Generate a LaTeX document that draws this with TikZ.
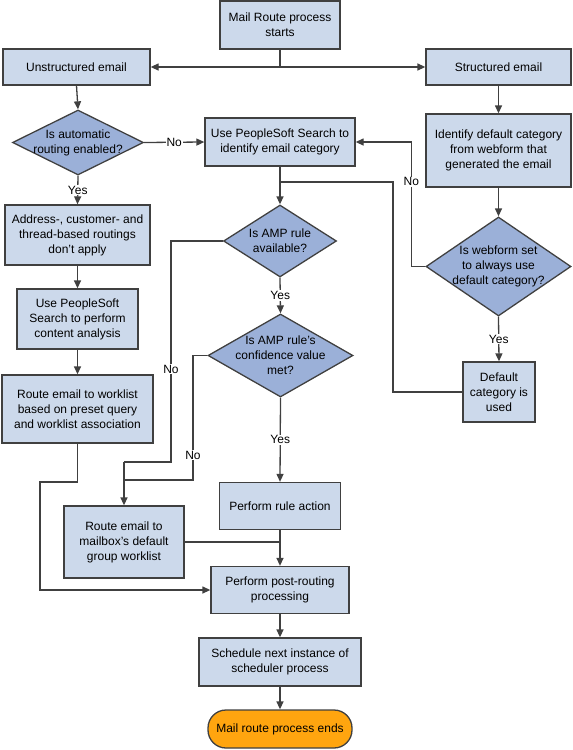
\documentclass[tikz,border=0pt]{standalone}
\usepackage{fontspec}
\setmainfont{Liberation Sans}
\usetikzlibrary{shapes.geometric,arrows.meta,positioning,calc}

\definecolor{boxfill}{RGB}{204,217,235}
\definecolor{decfill}{RGB}{155,176,216}
\definecolor{edge}{RGB}{64,64,64}
\definecolor{endfill}{RGB}{255,165,15}

\begin{document}
\begin{tikzpicture}[x=1pt, y=-1pt,
    font=\fontsize{12}{15}\selectfont,
    box/.style={draw=edge, line width=1.3pt, fill=boxfill, align=center, inner sep=0pt},
    decision/.style={diamond, draw=edge, line width=1.3pt, fill=decfill, inner sep=0pt},
    dtext/.style={align=center, inner sep=0pt},
    line/.style={draw=edge, line width=1.3pt},
    arr/.style={line, -{Triangle[length=8pt,width=7pt]}},
    lbl/.style={fill=white, inner sep=1pt}]
    \useasboundingbox (0,0) rectangle (573,750);

    % Start and the two email kinds
    \node[box, minimum width=120, minimum height=48] (start) at (280,25) {Mail Route process\\starts};
    \node[box, minimum width=147, minimum height=36] (unstr) at (76.5,67) {Unstructured email};
    \node[box, minimum width=145, minimum height=36] (str) at (498.5,67) {Structured email};
    \coordinate (split) at (280,67);

    % Left column
    \node[decision, minimum width=131, minimum height=65] (auto) at (78,142.5) {};
    \node[dtext] (auto-t) at (auto) {Is automatic\\routing enabled?};
    \node[box, minimum width=145, minimum height=60] (addr) at (77.5,235) {Address-, customer- and\\thread-based routings\\don't apply};
    \node[box, minimum width=121, minimum height=60] (content) at (77.5,319) {Use PeopleSoft\\Search to perform\\content analysis};
    \node[box, minimum width=151, minimum height=68] (rtwl) at (77.5,409) {Route email to worklist\\based on preset query\\and worklist association};

    % Middle column
    \node[box, minimum width=150, minimum height=48] (idcat) at (280,142) {Use PeopleSoft Search to\\identify email category};
    \node[decision, minimum width=113, minimum height=72] (amp) at (280,241) {};
    \node[dtext] (amp-t) at (amp) {Is AMP rule\\available?};
    \node[decision, minimum width=145, minimum height=83] (conf) at (280.5,355.5) {};
    \node[dtext] (conf-t) at (conf) {Is AMP rule's\\confidence value\\met?};
    \node[box, minimum width=121, minimum height=47] (rule) at (280,506) {Perform rule action};
    \node[box, minimum width=120, minimum height=72] (mbox) at (124,542) {Route email to\\mailbox's default\\group worklist};
    \node[box, minimum width=138, minimum height=47] (post) at (280,590) {Perform post-routing\\processing};
    \node[box, minimum width=162, minimum height=48] (sched) at (280,662) {Schedule next instance of\\scheduler process};
    \node[box, fill=endfill, rounded corners=18pt, minimum width=144, minimum height=38] (end) at (280,729) {Mail route process ends};

    % Right column
    \node[box, minimum width=145, minimum height=73] (idweb) at (498.5,150.5) {Identify default category\\from webform that\\generated the email};
    \node[decision, minimum width=145, minimum height=99] (web) at (498.5,266.5) {};
    \node[dtext] (web-t) at (web) {Is webform set\\to always use\\default category?};
    \node[box, minimum width=72, minimum height=60] (dflt) at (499,392) {Default\\category is\\used};

    % Helper points
    \coordinate (join) at (280,182);
    \coordinate (dfltturn) at (393,182);
    \coordinate (nomerge) at (124,462);
    \coordinate (postjoin) at (280,542);

    % Connectors
    \draw[line] (start) -- (split);
    \draw[arr] (split) -- (unstr.east);
    \draw[arr] (split) -- (str.west);
    \draw[arr] (unstr.south) -- (auto.north);
    \draw[arr] (auto.south) -- node[lbl] {Yes} (addr.north);
    \draw[arr] (auto.east) -- node[lbl] {No} (idcat.west);
    \draw[arr] (addr.south) -- (content.north);
    \draw[arr] (content.south) -- (rtwl.north);
    \draw[arr] (str.south) -- (idweb.north);
    \draw[arr] (idweb.south) -- (web.north);
    \draw[arr] (web.west) -- ++(-14,0) |- node[lbl, pos=0.34] {No} (idcat.east);
    \draw[arr] (web.south) -- node[lbl] {Yes} (dflt.north);
    \draw[line] (dflt.west) -| (dfltturn) -- (join);
    \draw[arr] (idcat.south) -- (amp.north);
    \draw[arr] (amp.south) -- node[lbl] {Yes} (conf.north);
    \draw[line] (amp.west) -| node[lbl, pos=0.79] {No} (171,462) -- (nomerge);
    \draw[line] (conf.west) -| node[lbl, pos=0.9] {No} (193,480) -- (124,480);
    \draw[arr] (nomerge) -- (mbox.north);
    \draw[arr] (conf.south) -- node[lbl] {Yes} (rule.north);
    \draw[arr] (rule.south) -- (post.north);
    \draw[line] (mbox.east) -- (postjoin);
    \draw[arr] (rtwl.south) |- (40,482) |- (post.west);
    \draw[arr] (post.south) -- (sched.north);
    \draw[arr] (sched.south) -- (end.north);
\end{tikzpicture}
\end{document}
